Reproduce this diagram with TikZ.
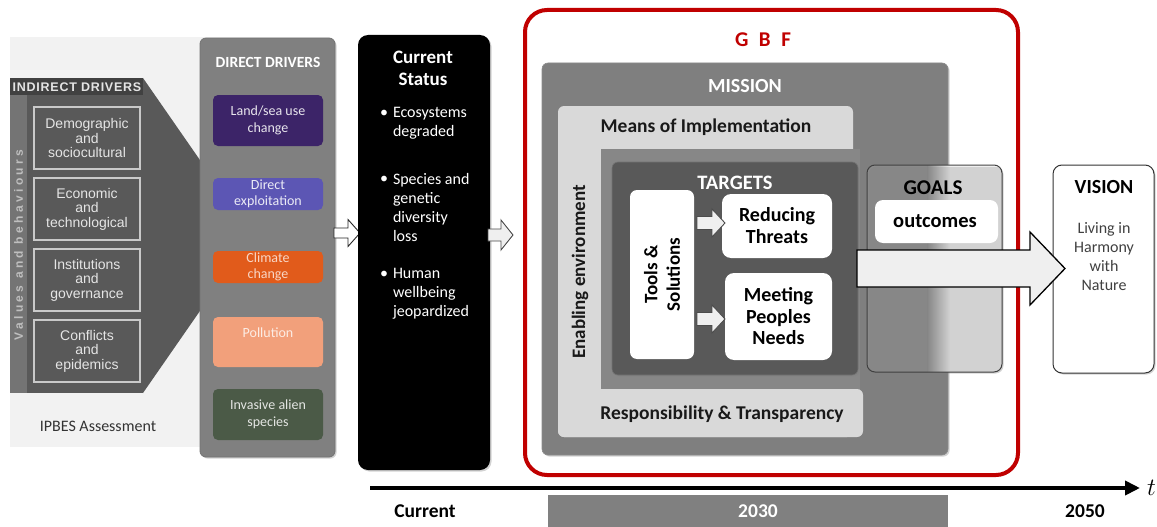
\documentclass[tikz,border=0pt]{standalone}
\usepackage{fontspec}
\setmainfont{Carlito}
\newfontfamily\arialf{Liberation Sans}
\newfontfamily\arialsp[LetterSpace=28]{Liberation Sans}
\newfontfamily\arialhd[LetterSpace=6]{Liberation Sans}
\usetikzlibrary{shadows,arrows.meta}
\newcommand\fsz[2]{\fontsize{#1}{#2}\selectfont}
% style, x tail, x tip, y centre, shaft half, head half, head length
\newcommand\blockarrow[7]{%
 \draw[#1] (#2,#4-#5) -- (#3-#7,#4-#5) -- (#3-#7,#4-#6) -- (#3,#4) -- (#3-#7,#4+#6) -- (#3-#7,#4+#5) -- (#2,#4+#5) -- cycle;}
\definecolor{lightbg}{HTML}{F2F2F2}
\definecolor{indhead}{HTML}{414141}
\definecolor{indstrip}{HTML}{747474}
\definecolor{indpanel}{HTML}{595959}
\definecolor{indbord}{HTML}{C9C9C9}
\definecolor{ddgray}{HTML}{808080}
\definecolor{landc}{HTML}{3C2468}
\definecolor{exploitc}{HTML}{5C56B4}
\definecolor{climatec}{HTML}{E15B1B}
\definecolor{pollc}{HTML}{F2A07B}
\definecolor{invc}{HTML}{4B5A47}
\definecolor{gbfred}{HTML}{C00000}
\definecolor{missc}{HTML}{7F7F7F}
\definecolor{lightc}{HTML}{D9D9D9}
\definecolor{innerc}{HTML}{878787}
\definecolor{targc}{HTML}{595959}
\definecolor{goalsgray}{HTML}{8C8C8C}
\definecolor{arrowfill}{HTML}{EFEFEF}
\tikzset{
  shad/.style={drop shadow={shadow xshift=1.5pt,shadow yshift=-1.5pt,opacity=0.35}},
  indbox/.style={draw=indbord, line width=1.3pt, fill=indpanel, minimum width=106pt, minimum height=62pt,
     text=white!90!black, font=\arialf\fsz{14}{14.5}, align=center},
  ddbox/.style={rounded corners=5pt, minimum width=110pt, font=\fsz{14}{16.5}, align=center},
  whitebox/.style={fill=white, rounded corners=9pt},
  head/.style={font=\bfseries\fsz{19}{22.5}, align=center},
  bul/.style={anchor=north west, font=\fsz{16}{19}, text=white, align=left},
  dot/.style={anchor=north west, font=\fsz{16}{19}, text=white},
  sarrow/.style={fill=arrowfill, draw=black!70, line width=0.9pt, line join=miter},
  tlabel/.style={font=\bfseries\fsz{19.5}{22}},
}
\begin{document}
\begin{tikzpicture}[x=1pt,y=-1pt, every node/.style={inner sep=0pt,outer sep=0pt}]
\useasboundingbox (0,0) rectangle (1157,527);
\fill[white] (0,0) rectangle (1157,527);

% ---------- IPBES part ----------
\fill[lightbg] (10,37) rectangle (205,447);
\fill[indpanel] (143,78) -- (202,163) -- (202,308) -- (143,393) -- cycle;
\fill[indhead] (10,78) rectangle (143,95);
\fill[indstrip] (10,95) rectangle (27,393);
\fill[indpanel] (27,95) rectangle (143,393);
\node[font=\arialhd\bfseries\fsz{12.5}{13}, text=white!90!black] (indt) at (77,87) {INDIRECT DRIVERS};
\node[rotate=90, font=\arialsp\bfseries\fsz{12}{13}, text=black!25] (vb) at (18.5,245) {Values and behaviours};
\node[indbox] (demo) at (87,138) {Demographic\\and\\sociocultural};
\node[indbox] (econ) at (87,209) {Economic\\and\\technological};
\node[indbox] (inst) at (87,280) {Institutions\\and\\governance};
\node[indbox] (conf) at (87,351) {Conflicts\\and\\epidemics};
\node[font=\fsz{16}{18}, text=black!80] (ipbes) at (98,426) {IPBES Assessment};

% ---------- Direct drivers ----------
\node[draw=black!55, line width=0.8pt, fill=ddgray, rounded corners=6pt, minimum width=135pt, minimum height=419pt, shad] (dd) at (267.5,247.5) {};
\node[font=\bfseries\fsz{15.5}{17}, text=white] (ddt) at (268,62) {DIRECT DRIVERS};
\node[ddbox, fill=landc, minimum height=51pt, text=white!88!landc] (land) at (268,120.5) {Land/sea use\\change};
\node[ddbox, fill=exploitc, minimum height=32pt, text=white!88!exploitc] (expl) at (268,194) {Direct\\exploitation};
\node[ddbox, fill=climatec, minimum height=32pt, text=white!75!climatec] (clim) at (268,267) {Climate\\change};
\node[ddbox, fill=pollc, minimum height=50pt] (poll) at (268,342) {};
\node[font=\fsz{14}{16}, text=white!80!pollc] (pollt) at (268,333) {Pollution};
\node[ddbox, fill=invc, minimum height=51pt, text=white!85!invc] (inv) at (268,414.5) {Invasive alien\\species};

\blockarrow{fill=white, draw=black!85, line width=0.9pt, line join=miter}{334}{360}{233}{5}{13.5}{12}

% ---------- Current status ----------
\node[fill=black, rounded corners=10pt, minimum width=132pt, minimum height=435pt, shad] (cs) at (424,252.5) {};
\node[font=\bfseries\fsz{19}{22}, text=white, align=center] (cst) at (423,68) {Current\\Status};
\node[dot] (d1) at (380,110) {\textbullet};
\node[bul] (b1) at (393,107) {Ecosystems\\degraded};
\node[dot] (d2) at (380,176) {\textbullet};
\node[bul] (b2) at (393,173) {Species and\\genetic\\diversity\\loss};
\node[dot] (d3) at (380,271) {\textbullet};
\node[bul] (b3) at (393,268) {Human\\wellbeing\\jeopardized};

\blockarrow{fill=arrowfill, draw=black!70, line width=0.9pt, line join=miter}{488}{513}{235}{6}{15}{12}

% ---------- GBF ----------
\draw[gbfred, line width=4pt, rounded corners=22pt] (525,10) rectangle (1018,475);
\node[font=\bfseries\fsz{21}{22}, text=gbfred] (gbf) at (763,40) {G\,\,\,B\,\,\,F};

\node[fill=missc, draw=black!45, line width=0.6pt, rounded corners=6pt, minimum width=406pt, minimum height=392pt, shad] (mis) at (745,259) {};
\node[font=\bfseries\fsz{20}{22}, text=white] (mist) at (745,86) {MISSION};

\fill[lightc, rounded corners=6pt] (558,106) rectangle (853,437);
\fill[innerc] (601,149) rectangle (860,397);
\node[fill=lightc, rounded corners=6pt, minimum width=305pt, minimum height=48pt] (resp) at (710.5,413) {};
\node[font=\bfseries\fsz{19.5}{20}, text=black!90] (respt) at (722,414) {Responsibility \& Transparency};
\node[font=\bfseries\fsz{19.5}{20}, text=black!90] (moi) at (706,127) {Means of Implementation};
\node[rotate=90, font=\bfseries\fsz{19}{20}, text=black!90] (enab) at (580,272) {Enabling environment};

\node[fill=targc, draw=black!55, line width=0.6pt, rounded corners=6pt, minimum width=246pt, minimum height=213pt, shad] (tg) at (735,268.5) {};
\node[font=\bfseries\fsz{20.5}{22}, text=white] (tgt) at (735,183) {TARGETS};
\node[whitebox, rounded corners=7pt, minimum width=64pt, minimum height=169pt] (tools) at (662,274.5) {};
\node[rotate=90, head] (toolst) at (662,274.5) {Tools \&\\Solutions};
\node[whitebox, minimum width=110pt, minimum height=64pt, font=\bfseries\fsz{20}{22}, align=center] (rt) at (777,226) {Reducing\\Threats};
\node[whitebox, minimum width=107pt, minimum height=87pt, font=\bfseries\fsz{20}{21.5}, align=center] (mp) at (778.5,316.5) {Meeting\\Peoples\\Needs};
\blockarrow{sarrow}{697}{725}{223}{6.5}{14}{13}
\blockarrow{sarrow}{697}{725}{319}{6.5}{14}{13}

% ---------- Goals ----------
\begin{scope}
\clip[rounded corners=8pt] (867,165) rectangle (1002,372);
\fill[white] (867,165) rectangle (1002,372);
\fill[goalsgray] (867,165) rectangle (928,372);
\shade[left color=goalsgray, right color=white] (927.5,165) rectangle (950,372);
\end{scope}
\node[draw=black!75, line width=1pt, rounded corners=8pt, minimum width=135pt, minimum height=207pt, shad] (goals) at (934.5,268.5) {};
\node[font=\bfseries\fsz{21}{23}] (goalst) at (933,188) {GOALS};
\node[fill=white, rounded corners=8pt, minimum width=123pt, minimum height=43pt] (outc) at (936.5,221.5) {};
\node[font=\bfseries\fsz{20.5}{21}] (outct) at (935,221) {outcomes};

% ---------- Vision ----------
\node[fill=white, draw=black!80, line width=1pt, rounded corners=9pt, minimum width=101pt, minimum height=208pt, shad] (vis) at (1103.5,269) {};
\node[font=\bfseries\fsz{20}{22}] (vist) at (1104,187) {VISION};
\node[font=\fsz{16}{19}, text=black!75, align=center] (livt) at (1104,257) {Living in\\Harmony\\with\\Nature};

\blockarrow{fill=arrowfill, draw=black, line width=1.3pt, line join=miter}{857}{1065}{268.5}{18.5}{36.5}{35}

% ---------- Timeline ----------
\coordinate (tl0) at (370,488);
\coordinate (tl1) at (1140,488);
\draw[line width=4pt, -{Triangle[length=15pt,width=14pt]}] (tl0) -- (tl1);
\node[anchor=west, font=\fsz{28}{28}] (tt) at (1147,488) {$t$};
\fill[ddgray] (548,495) rectangle (948,527);
\node[tlabel] (cur) at (425,511) {Current};
\node[tlabel, text=white] (y30) at (758,511) {2030};
\node[tlabel] (y50) at (1085,511) {2050};
\end{tikzpicture}
\end{document}
